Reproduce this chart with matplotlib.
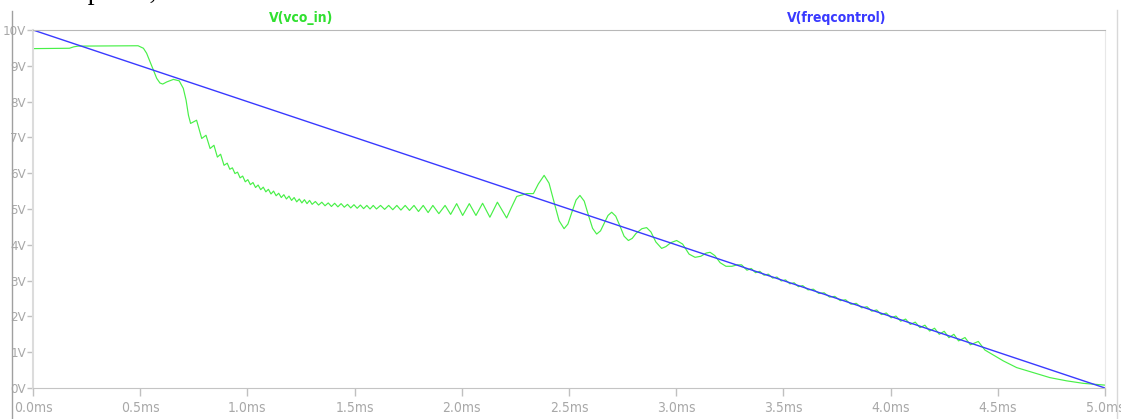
import matplotlib
matplotlib.use('Agg')
import matplotlib.pyplot as plt
from matplotlib.lines import Line2D

# V(freqcontrol): straight ramp
freq_t = [0.0, 5.0]
freq_v = [10.0, 0.0]

# V(vco_in) (t in ms, v in V)
vco_t_flat = [0.0, 0.17, 0.19, 0.21, 0.49]
vco_v_flat = [9.48, 9.49, 9.53, 9.55, 9.56]

vco_t_drop = [0.515, 0.53, 0.546, 0.561, 0.577, 0.592, 0.605, 0.624, 0.655, 0.682,
              0.701, 0.714, 0.725, 0.735, 0.763, 0.787, 0.807, 0.826, 0.844, 0.860,
              0.875, 0.891, 0.906]
vco_v_drop = [9.49, 9.35, 9.11, 8.88, 8.65, 8.52, 8.49, 8.55, 8.62, 8.58,
              8.37, 8.04, 7.62, 7.39, 7.48, 6.97, 7.06, 6.69, 6.78, 6.45,
              6.53, 6.22, 6.28]

vco_t_ripple = [0.918, 0.930, 0.942, 0.954, 0.966, 0.978, 0.990, 1.002, 1.014, 1.026,
                1.038, 1.050, 1.062, 1.074, 1.086, 1.098, 1.110, 1.122, 1.134, 1.146,
                1.158, 1.170, 1.182, 1.194, 1.206, 1.218, 1.230, 1.242, 1.254, 1.266,
                1.278, 1.290, 1.302, 1.317, 1.332, 1.347, 1.362, 1.377, 1.392, 1.407,
                1.422, 1.437, 1.452, 1.467, 1.482, 1.497, 1.512, 1.527, 1.542, 1.557,
                1.572, 1.587, 1.602, 1.621, 1.640, 1.659, 1.678, 1.697, 1.716, 1.736,
                1.756, 1.777, 1.798, 1.820, 1.843, 1.865, 1.893]
vco_v_ripple = [6.11, 6.15, 5.99, 6.03, 5.87, 5.92, 5.76, 5.82, 5.68, 5.74,
                5.60, 5.67, 5.54, 5.61, 5.48, 5.55, 5.42, 5.50, 5.37, 5.44,
                5.32, 5.40, 5.28, 5.36, 5.24, 5.32, 5.20, 5.28, 5.17, 5.26,
                5.15, 5.24, 5.13, 5.21, 5.11, 5.19, 5.09, 5.17, 5.07, 5.16,
                5.06, 5.15, 5.05, 5.13, 5.03, 5.12, 5.02, 5.11, 5.01, 5.10,
                5.00, 5.10, 5.00, 5.10, 4.99, 5.10, 4.98, 5.10, 4.97, 5.10,
                4.96, 5.10, 4.93, 5.10, 4.90, 5.10, 4.87]

vco_t_ring = [1.922, 1.948, 1.976, 2.004, 2.035, 2.066, 2.097, 2.131, 2.166, 2.209,
              2.232, 2.256, 2.303, 2.334, 2.357, 2.384, 2.407, 2.430, 2.454, 2.477,
              2.495, 2.514, 2.533, 2.551, 2.571, 2.590, 2.610, 2.629, 2.647, 2.664,
              2.682, 2.699, 2.718, 2.738, 2.757, 2.777, 2.795, 2.813, 2.840, 2.862,
              2.882, 2.905, 2.932, 2.952, 2.975, 3.002, 3.030, 3.060, 3.088, 3.115,
              3.140, 3.158, 3.180, 3.205, 3.232, 3.260, 3.285, 3.305]
vco_v_ring = [5.10, 4.85, 5.15, 4.82, 5.15, 4.82, 5.16, 4.77, 5.19, 4.75,
              5.05, 5.35, 5.43, 5.43, 5.70, 5.94, 5.72, 5.20, 4.67, 4.45,
              4.58, 4.92, 5.25, 5.38, 5.22, 4.84, 4.46, 4.30, 4.39, 4.60,
              4.82, 4.91, 4.80, 4.52, 4.24, 4.12, 4.18, 4.32, 4.45, 4.48,
              4.36, 4.08, 3.90, 3.95, 4.06, 4.12, 4.02, 3.74, 3.65, 3.68,
              3.77, 3.79, 3.70, 3.50, 3.40, 3.40, 3.44, 3.44]

vco_t_track = [3.330, 3.350, 3.370, 3.390, 3.410, 3.430, 3.450, 3.470, 3.490, 3.510,
               3.530, 3.550, 3.570, 3.590, 3.615, 3.640, 3.665, 3.690, 3.715, 3.740,
               3.765, 3.790, 3.815, 3.840, 3.865, 3.890, 3.912, 3.935, 3.957, 3.980,
               4.002, 4.025, 4.047, 4.070, 4.092, 4.115, 4.137, 4.160, 4.182, 4.205,
               4.227, 4.250, 4.272, 4.295, 4.317, 4.347, 4.372, 4.409, 4.440]
vco_v_track = [3.29, 3.34, 3.22, 3.26, 3.15, 3.18, 3.07, 3.10, 2.99, 3.02,
               2.91, 2.94, 2.83, 2.86, 2.74, 2.76, 2.64, 2.66, 2.54, 2.56,
               2.44, 2.465, 2.34, 2.365, 2.24, 2.27, 2.146, 2.18, 2.05, 2.095,
               1.96, 2.01, 1.866, 1.925, 1.776, 1.84, 1.686, 1.755, 1.59, 1.67,
               1.50, 1.585, 1.406, 1.50, 1.316, 1.41, 1.206, 1.30, 1.06]

vco_t_tail = [4.50, 4.526, 4.588, 4.666, 4.743, 4.821, 4.899, 5.0]
vco_v_tail = [0.85, 0.756, 0.57, 0.43, 0.29, 0.20, 0.13, 0.08]

vco_t = vco_t_flat + vco_t_drop + vco_t_ripple + vco_t_ring + vco_t_track + vco_t_tail
vco_v = vco_v_flat + vco_v_drop + vco_v_ripple + vco_v_ring + vco_v_track + vco_v_tail

x_ticks = [0.0, 0.5, 1.0, 1.5, 2.0, 2.5, 3.0, 3.5, 4.0, 4.5, 5.0]
x_labels = ['0.0ms', '0.5ms', '1.0ms', '1.5ms', '2.0ms', '2.5ms',
            '3.0ms', '3.5ms', '4.0ms', '4.5ms', '5.0ms']
y_ticks = [0, 1, 2, 3, 4, 5, 6, 7, 8, 9, 10]
y_labels = ['0V', '1V', '2V', '3V', '4V', '5V', '6V', '7V', '8V', '9V', '10V']

W, H = 1121, 419

fig = plt.figure(figsize=(W / 100, H / 100), dpi=100)
fig.patch.set_facecolor('white')
ax = fig.add_axes([33 / W, 1 - 388 / H, (1105 - 33) / W, (388 - 30) / H])

ax.plot(vco_t, vco_v, color='#48f048', lw=0.85)
ax.plot(freq_t, freq_v, color='#3a3aff', lw=1.0)

ax.set_xlim(0, 5)
ax.set_ylim(0, 10)
ax.set_xticks(x_ticks)
ax.set_xticklabels(x_labels)
ax.set_yticks(y_ticks)
ax.set_yticklabels(y_labels)
ax.tick_params(axis='x', colors='#c0c0c0', length=6, width=1, pad=3,
               labelcolor='#a8a8a8', labelsize=10)
ax.tick_params(axis='y', colors='#c0c0c0', length=4, width=1, pad=1,
               labelcolor='#a8a8a8', labelsize=9.5)
for lab in ax.get_xticklabels() + ax.get_yticklabels():
    lab.set_family('DejaVu Sans')
    lab.set_stretch('condensed')

ax.spines['top'].set_color('#b8b8b8')
ax.spines['bottom'].set_color('#c4c4c4')
ax.spines['left'].set_color('#dcdcdc')
ax.spines['left'].set_linewidth(1.5)
ax.spines['right'].set_color('#e8e8e8')

ax.text(0.25, 1.034, 'V(vco_in)', transform=ax.transAxes, ha='center', va='center',
        color='#30e030', fontsize=10, fontweight='bold', fontstretch='condensed')
ax.text(0.75, 1.034, 'V(freqcontrol)', transform=ax.transAxes, ha='center', va='center',
        color='#3a3aff', fontsize=10, fontweight='bold', fontstretch='condensed')

# window borders of the screenshot
fig.add_artist(Line2D([12 / W, 12 / W], [0, 1 - 11 / H], color='#a0a0a0', lw=1))
fig.add_artist(Line2D([1117 / W, 1117 / W], [0, 1 - 10 / H], color='#d8d8d8', lw=1))

# caption text from above, cut off by the top edge
fig.text(40 / W, 1 + 1 / H, 'compared,', ha='left', va='baseline',
         fontsize=20, family='Liberation Serif', color='black')

fig.savefig('out.png', dpi=100)
